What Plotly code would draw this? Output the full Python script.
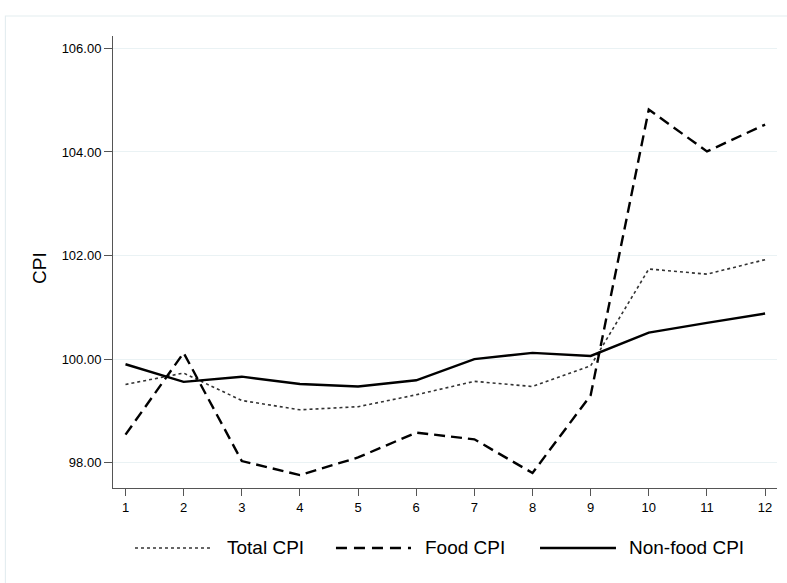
import plotly.graph_objects as go

months = [1, 2, 3, 4, 5, 6, 7, 8, 9, 10, 11, 12]
total_cpi = [99.51, 99.73, 99.20, 99.02, 99.08, 99.31, 99.57, 99.47, 99.87, 101.74, 101.64, 101.92]
food_cpi = [98.54, 100.12, 98.03, 97.76, 98.10, 98.58, 98.45, 97.80, 99.30, 104.82, 104.01, 104.53]
nonfood_cpi = [99.90, 99.56, 99.66, 99.52, 99.47, 99.59, 100.00, 100.12, 100.06, 100.51, 100.70, 100.88]
series_names = ["Total CPI", "Food CPI", "Non-food CPI"]
y_ticks = [98, 100, 102, 104, 106]
y_tick_labels = ["98.00", "100.00", "102.00", "104.00", "106.00"]

FONT = "Liberation Sans, Arial, Helvetica, sans-serif"
styles = [
    dict(color="#333333", width=1.6, dash="dot"),
    dict(color="#000000", width=2.4, dash="11px,6px"),
    dict(color="#000000", width=2.4, dash="solid"),
]

fig = go.Figure()
for name, vals, st in zip(series_names, [total_cpi, food_cpi, nonfood_cpi], styles):
    fig.add_trace(go.Scatter(x=months, y=vals, mode="lines", name=name,
                             line=st, showlegend=False))

# outer frame of the graph region
fig.add_shape(type="rect", xref="paper", yref="paper",
              x0=-0.162, x1=1.05, y0=-0.3, y1=1.0443,
              line=dict(color="#e4edf0", width=1.2), fillcolor="rgba(0,0,0,0)", layer="below")

# legend drawn below the plot (sample line + label)
legend_pos = [(0.0331, 0.1476, 0.1687), (0.3358, 0.4488, 0.4669), (0.6431, 0.7575, 0.7741)]
leg_y = -0.1327
for name, st, (xa, xb, xt) in zip(series_names, styles, legend_pos):
    lst = dict(st)
    if st["dash"] not in ("dot", "solid"):
        lst["dash"] = "11px,7px"
    fig.add_shape(type="line", xref="paper", yref="paper", x0=xa, x1=xb, y0=leg_y, y1=leg_y,
                  line=lst)
    fig.add_annotation(text=name, xref="paper", yref="paper", x=xt, y=leg_y,
                       xanchor="left", yanchor="middle", showarrow=False,
                       font=dict(family=FONT, size=19, color="#000000"))

fig.add_annotation(text="CPI", xref="paper", yref="paper", x=0, y=0.487,
                   xshift=-73, xanchor="center", yanchor="middle", textangle=-90,
                   showarrow=False, font=dict(family=FONT, size=19, color="#000000"))

fig.update_layout(
    width=787, height=583,
    margin=dict(l=113, r=10, t=36, b=95),
    paper_bgcolor="white", plot_bgcolor="white",
    font=dict(family=FONT, size=13, color="#000000"),
    showlegend=False,
    xaxis=dict(range=[0.785, 12.205], tickvals=months, ticktext=[str(m) for m in months],
               showgrid=False, zeroline=False, showline=True, linecolor="#555555", linewidth=1,
               ticks="outside", ticklen=7, tickcolor="#555555", tickwidth=1,
               tickfont=dict(family=FONT, size=13, color="#000000")),
    yaxis=dict(range=[97.51, 106.24], tickvals=y_ticks, ticktext=y_tick_labels,
               showgrid=True, gridcolor="#eaf2f4", gridwidth=1.2, zeroline=False,
               showline=True, linecolor="#555555", linewidth=1,
               ticks="outside", ticklen=8, tickcolor="#555555", tickwidth=1,
               tickfont=dict(family=FONT, size=13, color="#000000")),
)

fig.write_html("out.html", config={"displayModeBar": False},
               post_script="document.body.style.margin='0';document.body.style.overflow='hidden';")
